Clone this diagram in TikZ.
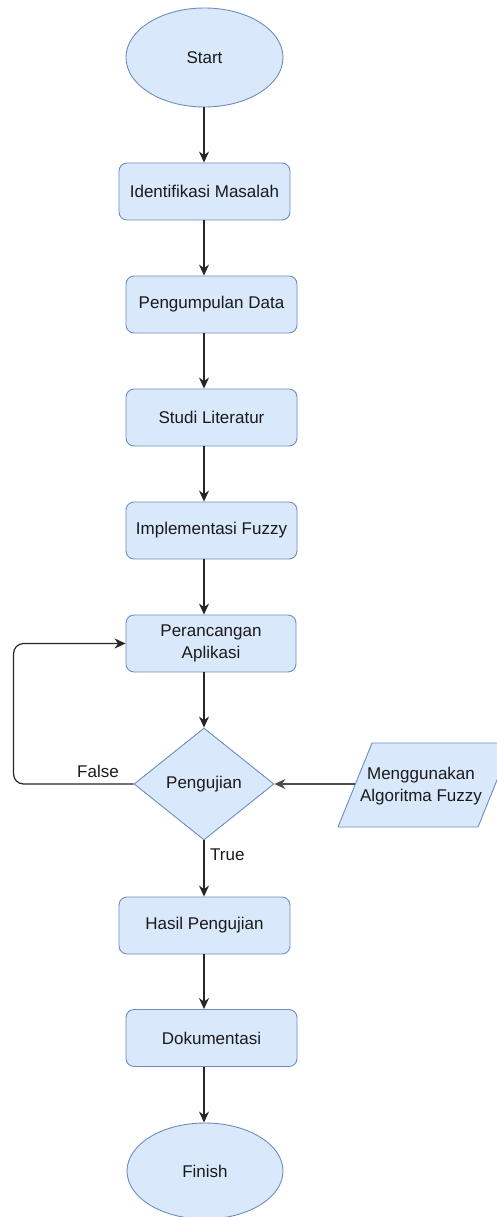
\documentclass[tikz,border=0pt]{standalone}
\usepackage{fontspec}
\setmainfont{Liberation Sans}
\usetikzlibrary{shapes.geometric,arrows.meta}
\definecolor{fillb}{HTML}{DAE8FC}
\definecolor{strokeb}{HTML}{6C8EBF}
\definecolor{txt}{HTML}{1A1A1A}
\begin{document}
\begin{tikzpicture}[x=1pt,y=-1pt,
  every node/.style={font=\fontsize{17}{22}\selectfont, text=txt},
  proc/.style={draw=strokeb, fill=fillb, rounded corners=8pt, minimum width=171pt, minimum height=57pt, inner sep=0pt, align=center, line width=0.9pt},
  term/.style={ellipse, draw=strokeb, fill=fillb, inner sep=0pt, line width=0.9pt},
  decis/.style={diamond, draw=strokeb, fill=fillb, inner sep=0pt, minimum width=140pt, minimum height=112pt, line width=0.9pt},
  inshape/.style={draw=strokeb, fill=fillb, line width=0.9pt},
  arr/.style={draw=black!85, line width=1.2pt, -{Stealth[length=11pt,width=10pt]}},
  lbl/.style={inner sep=0pt}]
\useasboundingbox (0,0) rectangle (497,1217);
\clip (0,0) rectangle (497,1217);

\node[term, minimum width=157pt, minimum height=99pt] (start) at (204.5,57.5) {Start};
\node[proc] (b1) at (204.5,191.5) {Identifikasi Masalah};
\node[proc] (b2) at (211.5,304.5) {Pengumpulan Data};
\node[proc] (b3) at (211.5,417.5) {Studi Literatur};
\node[proc] (b4) at (211.5,530.5) {Implementasi Fuzzy};
\node[proc, minimum width=170pt] (b5) at (211,643.5) {Perancangan\\Aplikasi};
\node[decis] (dec) at (204,784) {Pengujian};

% input parallelogram (runs past the right edge, as in the reference)
\path[inshape] (372,743) -- (512,743) -- (478,827) -- (338,827) -- cycle;
\node[align=center, inner sep=0pt] (inp) at (421,786) {Menggunakan\\Algoritma Fuzzy};
\coordinate (inpL) at (355,784);

\node[proc] (b6) at (204.5,925.5) {Hasil Pengujian};
\node[proc] (b7) at (211.5,1038) {Dokumentasi};
\node[term, minimum width=156pt, minimum height=96pt] (fin) at (205,1171) {Finish};

\node[lbl] (lf) at (98,771) {False};
\node[lbl, anchor=west] (lt) at (210,855) {True};

\draw[arr] (start.south -| dec) -- (b1.north -| dec);
\draw[arr] (b1.south -| dec) -- (b2.north -| dec);
\draw[arr] (b2.south -| dec) -- (b3.north -| dec);
\draw[arr] (b3.south -| dec) -- (b4.north -| dec);
\draw[arr] (b4.south -| dec) -- (b5.north -| dec);
\draw[arr] (b5.south -| dec) -- (dec.north);
\draw[arr] (dec.south) -- (b6.north -| dec);
\draw[arr] (b6.south -| dec) -- (b7.north -| dec);
\draw[arr] (b7.south -| dec) -- (fin.north -| dec);
\draw[arr, rounded corners=10pt] (dec.west) -- ++(-120,0) |- (b5.west);
\draw[arr, draw=black!70] (inpL) -- (dec.east);
\end{tikzpicture}
\end{document}
